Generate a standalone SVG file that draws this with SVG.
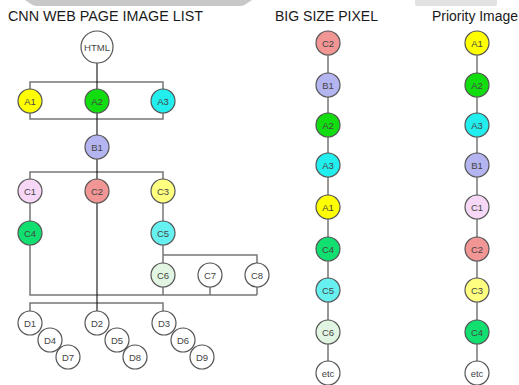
<svg xmlns="http://www.w3.org/2000/svg" width="519" height="385" viewBox="0 0 519 385">
<style>
.t{font-family:"Liberation Sans",Arial,sans-serif;font-size:14px;fill:#1a1a1a}
.n circle{stroke:#555;stroke-width:1.2}
.n text{font-family:"Liberation Sans",Arial,sans-serif;font-size:9.5px;fill:#444;text-anchor:middle;dominant-baseline:central}
.g{stroke:#777;stroke-width:1.5;fill:none}
.k{stroke:#111;stroke-width:1.1;fill:none}
</style>
<rect width="519" height="385" fill="#fff"/>
<path d="M25 0 H252 L246 4 Q244 6 240 6 H37 Q33 6 31 4 Z" fill="#c8c8c8"/>
<path d="M415 0 H497 V4 Q497 6 494 6 H418 Q415 6 415 4 Z" fill="#e2e2e2"/>
<text class="t" x="8" y="21" textLength="195" lengthAdjust="spacingAndGlyphs">CNN WEB PAGE IMAGE LIST</text>
<text class="t" x="275" y="21" textLength="103" lengthAdjust="spacingAndGlyphs">BIG SIZE PIXEL</text>
<text class="t" x="432" y="21" textLength="86" lengthAdjust="spacingAndGlyphs">Priority Image</text>
<g id="connectors">
<path class="g" d="M30 101 V82 H163 V101 M30 101 V119 H163 V101"/>
<path class="g" d="M30 191 V172 H163 V191 M30 191 V233 V295 H257 M163 191 V233 V275 M163 255 H257 V275 M163 275 V295 M210 275 V295 M257 275 V295"/>
<path class="g" d="M30 323 V303 H163 V323"/>
<path class="k" d="M97 47 V323"/>
<path class="g" d="M328 43 V373 M477 43 V373"/>
</g>
<g id="HTML" class="n"><circle cx="97" cy="47" r="16" fill="#fff"/><text x="97" y="47">HTML</text></g>
<g id="A1" class="n"><circle cx="30" cy="101" r="12" fill="#ffff00"/><text x="30" y="101">A1</text></g>
<g id="A2" class="n"><circle cx="97" cy="101" r="12" fill="#11dd11"/><text x="97" y="101">A2</text></g>
<g id="A3" class="n"><circle cx="163" cy="101" r="12" fill="#22eeee"/><text x="163" y="101">A3</text></g>
<g id="B1" class="n"><circle cx="97" cy="147" r="12" fill="#b4b4f0"/><text x="97" y="147">B1</text></g>
<g id="C1" class="n"><circle cx="30" cy="191" r="12" fill="#f6d8f6"/><text x="30" y="191">C1</text></g>
<g id="C2" class="n"><circle cx="97" cy="191" r="12" fill="#f29595"/><text x="97" y="191">C2</text></g>
<g id="C3" class="n"><circle cx="163" cy="191" r="12" fill="#ffff80"/><text x="163" y="191">C3</text></g>
<g id="C4" class="n"><circle cx="30" cy="233" r="12" fill="#11e070"/><text x="30" y="233">C4</text></g>
<g id="C5" class="n"><circle cx="163" cy="233" r="12" fill="#66f0f0"/><text x="163" y="233">C5</text></g>
<g id="C6" class="n"><circle cx="163" cy="275" r="12" fill="#e2f5e2"/><text x="163" y="275">C6</text></g>
<g id="C7" class="n"><circle cx="210" cy="275" r="12" fill="#fff"/><text x="210" y="275">C7</text></g>
<g id="C8" class="n"><circle cx="257" cy="275" r="12" fill="#fff"/><text x="257" y="275">C8</text></g>
<g id="D1" class="n"><circle cx="30" cy="323" r="12" fill="#fff"/><text x="30" y="323">D1</text></g>
<g id="D4" class="n"><circle cx="50" cy="340" r="12" fill="#fff"/><text x="50" y="340">D4</text></g>
<g id="D7" class="n"><circle cx="68" cy="357" r="12" fill="#fff"/><text x="68" y="357">D7</text></g>
<g id="D2" class="n"><circle cx="97" cy="323" r="12" fill="#fff"/><text x="97" y="323">D2</text></g>
<g id="D5" class="n"><circle cx="117" cy="340" r="12" fill="#fff"/><text x="117" y="340">D5</text></g>
<g id="D8" class="n"><circle cx="135" cy="357" r="12" fill="#fff"/><text x="135" y="357">D8</text></g>
<g id="D3" class="n"><circle cx="164" cy="323" r="12" fill="#fff"/><text x="164" y="323">D3</text></g>
<g id="D6" class="n"><circle cx="183" cy="340" r="12" fill="#fff"/><text x="183" y="340">D6</text></g>
<g id="D9" class="n"><circle cx="202" cy="357" r="12" fill="#fff"/><text x="202" y="357">D9</text></g>
<g id="big-C2" class="n"><circle cx="328" cy="43" r="12" fill="#f29595"/><text x="328" y="43">C2</text></g>
<g id="big-B1" class="n"><circle cx="328" cy="85" r="12" fill="#b4b4f0"/><text x="328" y="85">B1</text></g>
<g id="big-A2" class="n"><circle cx="328" cy="125" r="12" fill="#11dd11"/><text x="328" y="125">A2</text></g>
<g id="big-A3" class="n"><circle cx="328" cy="165" r="12" fill="#22eeee"/><text x="328" y="165">A3</text></g>
<g id="big-A1" class="n"><circle cx="328" cy="207" r="12" fill="#ffff00"/><text x="328" y="207">A1</text></g>
<g id="big-C4" class="n"><circle cx="328" cy="249" r="12" fill="#11e070"/><text x="328" y="249">C4</text></g>
<g id="big-C5" class="n"><circle cx="328" cy="290" r="12" fill="#66f0f0"/><text x="328" y="290">C5</text></g>
<g id="big-C6" class="n"><circle cx="328" cy="332" r="12" fill="#e2f5e2"/><text x="328" y="332">C6</text></g>
<g id="big-etc" class="n"><circle cx="328" cy="373" r="12" fill="#fff"/><text x="328" y="373">etc</text></g>
<g id="pri-A1" class="n"><circle cx="477" cy="43" r="12" fill="#ffff00"/><text x="477" y="43">A1</text></g>
<g id="pri-A2" class="n"><circle cx="477" cy="85" r="12" fill="#11dd11"/><text x="477" y="85">A2</text></g>
<g id="pri-A3" class="n"><circle cx="477" cy="125" r="12" fill="#22eeee"/><text x="477" y="125">A3</text></g>
<g id="pri-B1" class="n"><circle cx="477" cy="165" r="12" fill="#b4b4f0"/><text x="477" y="165">B1</text></g>
<g id="pri-C1" class="n"><circle cx="477" cy="207" r="12" fill="#f6d8f6"/><text x="477" y="207">C1</text></g>
<g id="pri-C2" class="n"><circle cx="477" cy="249" r="12" fill="#f29595"/><text x="477" y="249">C2</text></g>
<g id="pri-C3" class="n"><circle cx="477" cy="290" r="12" fill="#ffff80"/><text x="477" y="290">C3</text></g>
<g id="pri-C4" class="n"><circle cx="477" cy="332" r="12" fill="#11e070"/><text x="477" y="332">C4</text></g>
<g id="pri-etc" class="n"><circle cx="477" cy="373" r="12" fill="#fff"/><text x="477" y="373">etc</text></g>
</svg>
